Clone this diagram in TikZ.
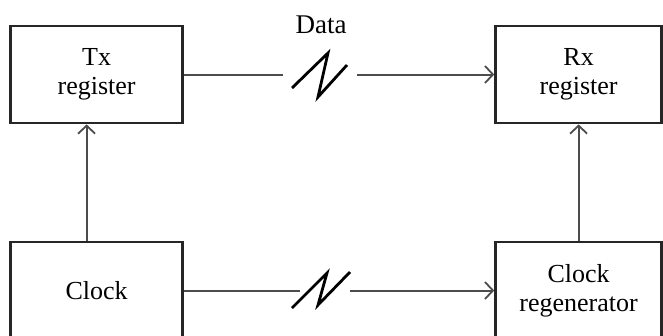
\documentclass[tikz,border=0pt]{standalone}
\usepackage{fontspec}
\setmainfont{Liberation Serif}
\usetikzlibrary{arrows.meta}
\begin{document}
\begin{tikzpicture}[x=1pt,y=-1pt,
  block/.style={rectangle, draw=black!85, line width=2.8pt, minimum width=172pt, minimum height=97pt, inner sep=0pt, align=center, font=\fontsize{26}{29}\selectfont},
  link/.style={draw=black!70, line width=2pt},
  tip/.style={-{Straight Barb[length=8pt,width=17pt,line width=1.8pt]}},
  brk/.style={line width=2.8pt, line join=miter}]
\useasboundingbox (0,0) rectangle (663,335);
\clip (0,0) rectangle (663,335);

% Registers
\node[block] (tx) at (96.6,74.5) {Tx\\register};
\node[block, minimum width=166pt] (rx) at (578.6,74.5) {Rx\\register};

% Clocks
\node[block] (clk) at (96.6,290.5) {Clock};
\node[block, minimum width=166pt] (regen) at (578.6,290.5) {Clock\\regenerator};

% Data label
\node[font=\fontsize{27}{29}\selectfont] (data) at (321,25) {Data};

% Line breaks
\coordinate (dl) at (283,74.5);
\coordinate (dr) at (357,74.5);
\coordinate (cl) at (300,290.5);
\coordinate (cr) at (350,290.5);
\draw[brk] (292,88) -- (328,53) -- (318,97) -- (347,65);
\draw[brk] (292,308) -- (327,273) -- (318,305) -- (350,272);

% Connections
\draw[link] (tx.east) -- (dl);
\draw[link, tip] (dr) -- (rx.west);
\draw[link] (clk.east) -- (cl);
\draw[link, tip] (cr) -- (regen.west);
\draw[link, tip] ([xshift=-10pt]clk.north) -- ([xshift=-10pt]tx.south);
\draw[link, tip] (regen.north) -- (rx.south);
\end{tikzpicture}
\end{document}
